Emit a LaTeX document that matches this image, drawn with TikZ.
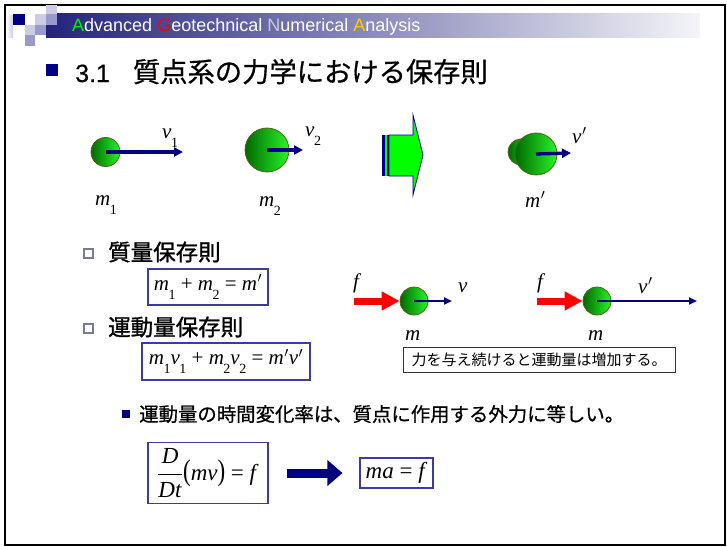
\documentclass[tikz,border=0pt]{standalone}
\usepackage{fontspec}
\usepackage{graphicx}
\setmainfont{Liberation Serif}
\newfontfamily\arial{Liberation Sans}
\newfontfamily\jp{Noto Sans CJK JP}
\newfontfamily\jpm{Noto Sans CJK JP}[FakeBold=0.6]
\newfontfamily\jpb{Noto Sans CJK JP}[FakeBold=1.2]
\newfontfamily\arialm{Liberation Sans}[FakeBold=0.5]
\usetikzlibrary{arrows.meta}

\definecolor{navy}{RGB}{0,0,128}
\definecolor{balldark}{RGB}{0,105,0}
\definecolor{ballbright}{RGB}{40,245,40}
\definecolor{ballline}{RGB}{80,100,20}
\definecolor{eqline}{RGB}{60,60,160}
\definecolor{hred}{RGB}{255,0,0}
\definecolor{blockgreen}{RGB}{0,255,0}
\definecolor{sqlight}{RGB}{204,204,230}
\definecolor{sqmid}{RGB}{153,153,204}
\definecolor{bandleft}{RGB}{35,35,125}
\definecolor{bandmid}{RGB}{150,150,184}
\definecolor{bandright}{RGB}{244,244,248}
\definecolor{hgreen}{RGB}{0,240,0}
\definecolor{hgrey}{RGB}{200,200,220}
\definecolor{hgold}{RGB}{255,204,0}
\definecolor{bulletline}{RGB}{120,120,165}

% math-like lettering in Times-style italics
\newcommand\ix[1]{\textit{#1}}
\newcommand\lsub[1]{\kern-0.5pt\lower9pt\hbox{\fontsize{14}{14}\selectfont\upshape #1}}
\newcommand\prm{\kern0.5pt\ensuremath{{}^{\prime}}}
\newcommand\eqsize{\fontsize{21}{24}\selectfont}

\tikzset{
  ball/.style={circle, draw=ballline, line width=0.8pt, left color=balldark, right color=ballbright, inner sep=0pt},
  varrow/.style={navy, line width=3.3pt, -{Triangle[length=9pt,width=9pt]}},
  varrowthin/.style={navy, line width=2pt, -{Triangle[length=8pt,width=7pt]}},
  redarrow/.style={hred, line width=7pt, -{Triangle[length=18pt,width=18pt]}},
  bigarrow/.style={navy, line width=9pt, -{Triangle[length=15pt,width=25pt]}},
  lbl/.style={anchor=base west, inner sep=0pt, font=\eqsize},
  eqbox/.style={draw=eqline, line width=1.1pt, inner sep=0pt, font=\eqsize},
  jptext/.style={anchor=west, inner sep=0pt},
  hollowsq/.style={draw=bulletline, line width=1.2pt, fill=white},
}

\begin{document}
\begin{tikzpicture}[x=1pt,y=-1pt]
\useasboundingbox (0,0) rectangle (727,546);
\fill[white] (0,0) rectangle (727,546);

% slide frame
\draw[line width=2pt, black] (5,5) rectangle (725,545);

% header band with decorative squares
\shade[left color=bandleft, middle color=bandmid, right color=bandright] (46,13) rectangle (700,37);
\shade[left color=white, right color=sqlight] (6,15) rectangle (13,37);
\fill[sqlight] (46,5) rectangle (57,14);
\fill[navy] (13,14) rectangle (25,25);
\fill[white] (25,14) rectangle (35,25);
\fill[sqlight] (35,14) rectangle (46,25);
\fill[sqmid] (46,14) rectangle (57,25);
\fill[sqlight] (25,25) rectangle (35,35);
\fill[sqmid] (35,25) rectangle (46,35);
\fill[sqmid] (25,35) rectangle (35,46);
\node[anchor=base west, inner sep=0pt, text=white, font=\arial\fontsize{18}{20}\selectfont] (header) at (72,31)
  {{\color{hgreen}A}dvanced {\color{hred}G}eotechnical {\color{hgrey}N}umerical {\color{hgold}A}nalysis};

% title
\fill[navy] (46,64) rectangle (58,76);
\node[anchor=base west, inner sep=0pt] (title) at (75,82)
  {\fontsize{25}{30}\selectfont\arialm 3.1\hspace{23pt}\fontsize{27.3}{30}\selectfont\jpm 質点系の力学における保存則};

% two masses before the collision
\node[ball, minimum size=29pt] (b1) at (105.5,152) {};
\coordinate (v1end) at (183,152);
\draw[varrow] (b1.center) -- (v1end);
\node[lbl] (v1lbl) at (162,138) {\ix{v}\lsub{1}};
\node[lbl] (m1lbl) at (95,205) {\ix{m}\lsub{1}};

\node[ball, minimum size=44pt] (b2) at (267,150) {};
\coordinate (v2end) at (303,150);
\draw[varrow] (b2.center) -- (v2end);
\node[lbl] (v2lbl) at (305,136) {\ix{v}\lsub{2}};
\node[lbl] (m2lbl) at (259,206) {\ix{m}\lsub{2}};

% block arrow
\filldraw[fill=blockgreen, draw=navy, line width=0.8pt]
  (389,135) -- (413,135) -- (413,115) -- (423,155) -- (413,195) -- (413,176) -- (389,176) -- cycle;
\fill[navy] (382,135) rectangle (384.5,176);
\fill[blockgreen] (384.5,135) rectangle (386.5,176);
\fill[navy] (386.5,135) rectangle (389,176);

% merged mass after the collision
\node[ball, minimum size=26pt] (b3back) at (521,152) {};
\node[ball, minimum size=42pt] (b3) at (536,154) {};
\coordinate (v3end) at (571,153);
\draw[varrow] (b3.center) -- (v3end);
\node[lbl] (v3lbl) at (572,143) {\ix{v}\prm};
\node[lbl] (m3lbl) at (525,207) {\ix{m}\prm};

% conservation laws
\draw[hollowsq] (84,249) rectangle (93,258);
\node[jptext, font=\jpb\fontsize{22.5}{26}\selectfont] (law1) at (108,252) {質量保存則};
\node[eqbox, minimum width=120pt, minimum height=36pt] (eq1) at (208,287)
  {\ix{m}\lsub{1} + \ix{m}\lsub{2} = \ix{m}\prm};

\draw[hollowsq] (84,324) rectangle (93,333);
\node[jptext, font=\jpb\fontsize{22.5}{26}\selectfont] (law2) at (108,327) {運動量保存則};
\node[eqbox, minimum width=168pt, minimum height=37pt] (eq2) at (226,361.5)
  {\ix{m}\lsub{1}\ix{v}\lsub{1} + \ix{m}\lsub{2}\ix{v}\lsub{2} = \ix{m}\prm\ix{v}\prm};

% a force acting on a mass
\node[ball, minimum size=28pt] (bf1) at (414,301) {};
\coordinate (f1start) at (354,301);
\draw[redarrow] (f1start) -- (bf1.west);
\coordinate (vf1end) at (452,301);
\draw[varrowthin] (bf1.center) -- (vf1end);
\node[lbl] (f1lbl) at (353,288) {\ix{f}};
\node[lbl] (vf1lbl) at (458,292) {\ix{v}};
\node[lbl] (mf1lbl) at (405,340) {\ix{m}};

\node[ball, minimum size=28pt] (bf2) at (597,301) {};
\coordinate (f2start) at (537,301);
\draw[redarrow] (f2start) -- (bf2.west);
\coordinate (vf2end) at (697,301);
\draw[varrowthin] (bf2.center) -- (vf2end);
\node[lbl] (f2lbl) at (537,288) {\ix{f}};
\node[lbl] (vf2lbl) at (638,293) {\ix{v}\prm};
\node[lbl] (mf2lbl) at (588,340) {\ix{m}};

\node[draw=black!80, line width=1pt, minimum width=272pt, minimum height=25pt, inner sep=0pt,
      font=\jp\fontsize{15}{18}\selectfont] (caption) at (539,359.5)
  {力を与え続けると運動量は増加する。};

% equation of motion
\fill[navy] (122,410) rectangle (130,418);
\node[jptext, font=\jpm\fontsize{19.4}{22}\selectfont] (rate) at (139,414)
  {運動量の時間変化率は、質点に作用する外力に等しい。};

\node[eqbox, minimum width=120pt, minimum height=61pt, font=\fontsize{23}{26}\selectfont] (eq3) at (208,473)
  {$\displaystyle\frac{\hbox{\ix{D}}}{\hbox{\ix{Dt}}}$\scalebox{1}[1.3]{(}\ix{mv}\scalebox{1}[1.3]{)} = \ix{f}};
\node[eqbox, minimum width=73pt, minimum height=30pt, font=\fontsize{23}{26}\selectfont] (eq4) at (396.5,473)
  {\ix{ma} = \ix{f}};
\draw[bigarrow] ([xshift=18pt]eq3.east) -- ([xshift=-17pt]eq4.west);
\end{tikzpicture}
\end{document}
